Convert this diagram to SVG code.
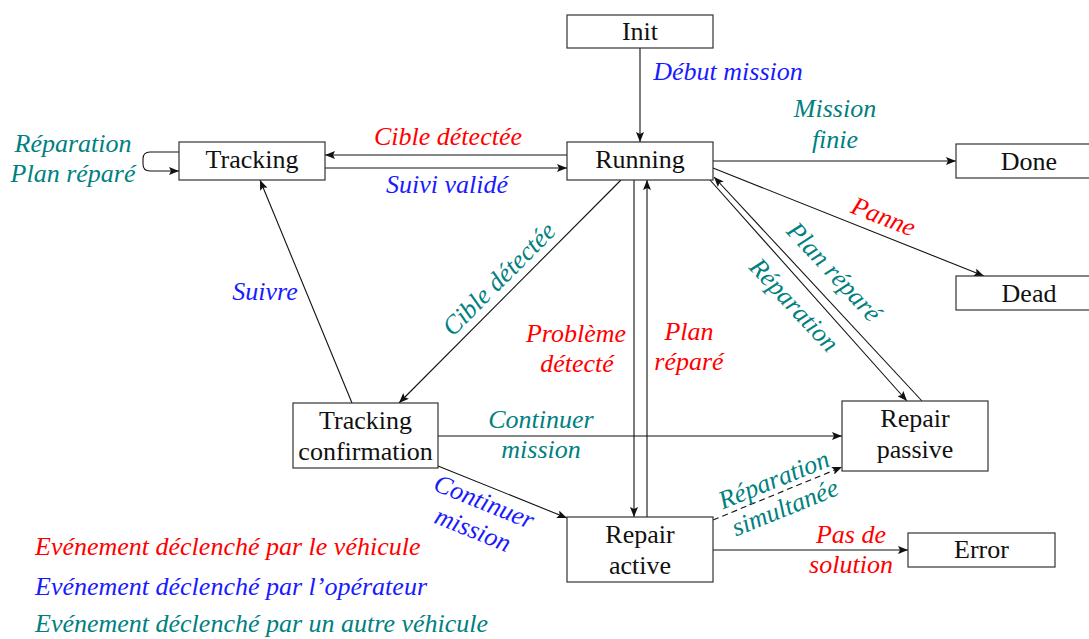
<svg xmlns="http://www.w3.org/2000/svg" width="1089" height="639" viewBox="0 0 1089 639">
<style>
.box{fill:#fff;stroke:#333;stroke-width:1.2}
.nt{font-size:26px;fill:#111;text-anchor:middle}
.lb{font-size:26px;font-style:italic;text-anchor:middle}
.red{fill:#ff0000}.blue{fill:#1a1aff}.teal{fill:#008080}
.c{fill:none;stroke:#111;stroke-width:1.1}
.d{stroke-dasharray:6 4}
</style>
<defs>
<marker id="ah" viewBox="0 0 10 8" refX="10" refY="4" markerWidth="10" markerHeight="8" markerUnits="userSpaceOnUse" orient="auto">
<path d="M0,0 L10,4 L0,8 L2,4 z" fill="#111"/>
</marker>
</defs>
<rect width="1089" height="639" fill="#fff"/>
<g id="connectors">
<path class="c" d="M640,48 V142" marker-end="url(#ah)"/>
<path class="c" d="M567,155 H325" marker-end="url(#ah)"/>
<path class="c" d="M325,168 H567" marker-end="url(#ah)"/>
<path class="c" d="M179,152 H150 Q143,152 143,159 V164 Q143,171 150,171 H179" marker-end="url(#ah)"/>
<path class="c" d="M713,161 H956" marker-end="url(#ah)"/>
<path class="c" d="M713,168 L984,276" marker-end="url(#ah)"/>
<path class="c" d="M710,180 L907,401" marker-end="url(#ah)"/>
<path class="c" d="M922,401 L714,177" marker-end="url(#ah)"/>
<path class="c" d="M621,180 L399,403" marker-end="url(#ah)"/>
<path class="c" d="M352,403 L260,180" marker-end="url(#ah)"/>
<path class="c" d="M634,180 V517" marker-end="url(#ah)"/>
<path class="c" d="M647,517 V180" marker-end="url(#ah)"/>
<path class="c" d="M438,436 H842" marker-end="url(#ah)"/>
<path class="c" d="M438,466 L567,518" marker-end="url(#ah)"/>
<path class="c d" d="M713,520 L842,467" marker-end="url(#ah)"/>
<path class="c" d="M713,550 H908" marker-end="url(#ah)"/>
</g>
<g font-family="'Liberation Serif', 'DejaVu Serif', 'Noto Serif', 'Times New Roman', Times, serif">
<g id="labels">
<text class="lb blue" x="728" y="80">Début mission</text>
<text class="lb teal" x="835" y="117">Mission</text>
<text class="lb teal" x="835" y="148">finie</text>
<text class="lb red" x="448" y="145">Cible détectée</text>
<text class="lb blue" x="447" y="193">Suivi validé</text>
<text class="lb teal" x="73" y="152">Réparation</text>
<text class="lb teal" x="73" y="182">Plan réparé</text>
<text class="lb red" transform="translate(883,218) rotate(21.6)" y="7">Panne</text>
<text class="lb teal" transform="translate(833,273) rotate(47)" y="7">Plan réparé</text>
<text class="lb teal" transform="translate(793,306) rotate(47)" y="7">Réparation</text>
<text class="lb teal" transform="translate(500,280) rotate(-45)" y="7">Cible détectée</text>
<text class="lb blue" x="265" y="300">Suivre</text>
<text class="lb red" x="576" y="342">Problème</text>
<text class="lb red" x="577" y="372">détecté</text>
<text class="lb red" x="689" y="340">Plan</text>
<text class="lb red" x="689" y="370">réparé</text>
<text class="lb teal" x="541" y="428">Continuer</text>
<text class="lb teal" x="541" y="458">mission</text>
<g transform="translate(478,517) rotate(22)">
<text class="lb blue" x="0" y="-8">Continuer</text>
<text class="lb blue" x="0" y="22">mission</text>
</g>
<g transform="translate(780,495) rotate(-22)">
<text class="lb teal" x="0" y="-8">Réparation</text>
<text class="lb teal" x="0" y="22">simultanée</text>
</g>
<text class="lb red" x="851" y="543">Pas de</text>
<text class="lb red" x="851" y="573">solution</text>
</g>
<g id="node-init"><rect class="box" x="567" y="15" width="146" height="33"/><text class="nt" x="640" y="40">Init</text></g>
<g id="node-running"><rect class="box" x="567" y="142" width="146" height="38"/><text class="nt" x="640" y="168">Running</text></g>
<g id="node-tracking"><rect class="box" x="179" y="142" width="146" height="38"/><text class="nt" x="252" y="168">Tracking</text></g>
<g id="node-done"><rect class="box" x="956" y="144" width="146" height="34"/><text class="nt" x="1029" y="170">Done</text></g>
<g id="node-dead"><rect class="box" x="956" y="276" width="146" height="34"/><text class="nt" x="1029" y="302">Dead</text></g>
<g id="node-tracking-confirmation"><rect class="box" x="293" y="403" width="145" height="65"/><text class="nt" x="365.5" y="429">Tracking</text><text class="nt" x="365.5" y="460">confirmation</text></g>
<g id="node-repair-passive"><rect class="box" x="842" y="401" width="146" height="70"/><text class="nt" x="915" y="427">Repair</text><text class="nt" x="915" y="458">passive</text></g>
<g id="node-repair-active"><rect class="box" x="567" y="517" width="146" height="65"/><text class="nt" x="640" y="543">Repair</text><text class="nt" x="640" y="574">active</text></g>
<g id="node-error"><rect class="box" x="908" y="533" width="147" height="34"/><text class="nt" x="981.5" y="558">Error</text></g>
<g id="legend">
<text class="lb red" style="text-anchor:start" x="35" y="555">Evénement déclenché par le véhicule</text>
<text class="lb blue" style="text-anchor:start" x="35" y="595">Evénement déclenché par l’opérateur</text>
<text class="lb teal" style="text-anchor:start" x="35" y="632">Evénement déclenché par un autre véhicule</text>
</g>
</g>
</svg>
